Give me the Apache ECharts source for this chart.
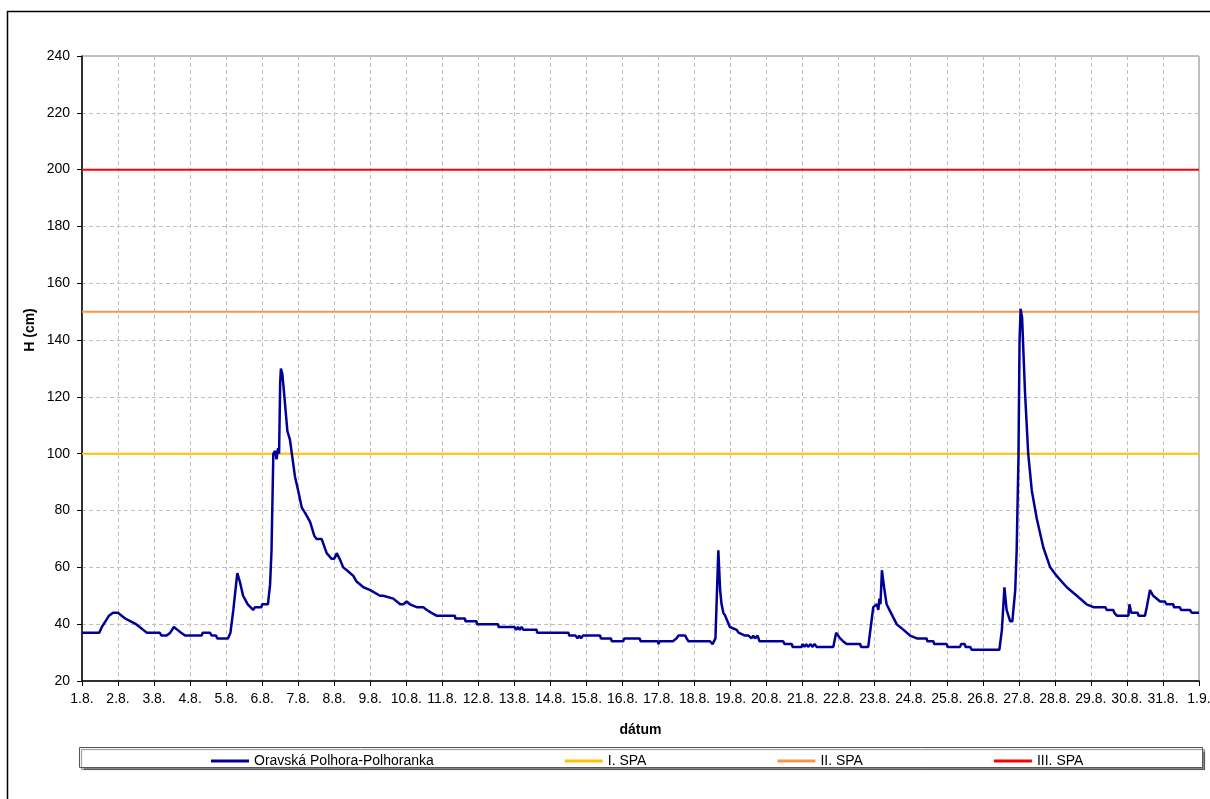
<!DOCTYPE html>
<html>
<head>
<meta charset="utf-8">
<script src="https://cdn.jsdelivr.net/npm/echarts@6/dist/echarts.min.js"></script>
<style>
html,body{margin:0;padding:0;background:#fff;overflow:hidden;}
#chart{width:1210px;height:799px;}
</style>
</head>
<body>
<div id="chart"></div>
<script>
// x tick labels (one per day, 1.8. .. 1.9.)
var dateLabels = ['1.8.','2.8.','3.8.','4.8.','5.8.','6.8.','7.8.','8.8.','9.8.','10.8.','11.8.','12.8.','13.8.','14.8.','15.8.','16.8.','17.8.','18.8.','19.8.','20.8.','21.8.','22.8.','23.8.','24.8.','25.8.','26.8.','27.8.','28.8.','29.8.','30.8.','31.8.','1.9.'];
var yTicks = [20,40,60,80,100,120,140,160,180,200,220,240];

var stationName = 'Oravská Polhora-Polhoranka';
// time in days since 1.8. 00:00
var tDays = [0,0.48,0.55,0.65,0.75,0.86,1.0,1.1,1.2,1.35,1.5,1.6,1.7,1.8,2.16,2.2,2.35,2.45,2.55,2.65,2.75,2.86,3.32,3.35,3.55,3.6,3.72,3.75,4.05,4.12,4.2,4.31,4.38,4.47,4.6,4.75,4.8,4.98,5.0,5.16,5.22,5.26,5.31,5.36,5.4,5.44,5.47,5.5,5.52,5.56,5.59,5.7,5.77,5.91,6.0,6.1,6.2,6.33,6.45,6.51,6.65,6.79,6.93,7.0,7.07,7.15,7.25,7.35,7.53,7.62,7.81,8.0,8.27,8.36,8.64,8.83,8.92,9.01,9.1,9.29,9.47,9.57,9.7,9.84,10.35,10.36,10.63,10.64,10.95,10.96,11.55,11.56,12.0,12.05,12.1,12.15,12.2,12.25,12.62,12.63,13.5,13.52,13.7,13.75,13.8,13.85,13.9,14.38,14.4,14.68,14.7,15.02,15.05,15.48,15.5,15.98,16.0,16.03,16.4,16.5,16.55,16.74,16.78,16.83,17.43,17.5,17.55,17.58,17.62,17.66,17.71,17.75,17.8,17.85,17.98,18.17,18.22,18.4,18.5,18.58,18.63,18.68,18.75,18.8,19.46,19.5,19.7,19.72,19.97,20.0,20.05,20.1,20.15,20.22,20.27,20.33,20.39,20.85,20.93,21.04,21.12,21.22,21.6,21.62,21.82,21.92,21.96,22.06,22.1,22.13,22.16,22.2,22.26,22.33,22.45,22.61,22.8,22.98,23.17,23.44,23.46,23.63,23.65,24.0,24.02,24.37,24.4,24.5,24.52,24.65,24.69,25.46,25.53,25.6,25.66,25.76,25.82,25.9,25.94,25.99,26.02,26.05,26.09,26.17,26.26,26.36,26.5,26.68,26.87,27.05,27.33,27.61,27.88,28.07,28.4,28.44,28.62,28.65,28.72,29.04,29.07,29.12,29.3,29.32,29.5,29.55,29.64,29.73,29.92,30.05,30.1,30.29,30.3,30.47,30.5,30.75,30.8,31];
// water level H (cm)
var hVals = [37,37,39,41,43,44,44,43,42,41,40,39,38,37,37,36,36,37,39,38,37,36,36,37,37,36,36,35,35,37,45,58,55,50,47,45,46,46,47,47,54,66,100,101,98,102,100,125,130,128,124,108,105,92,87,81,79,76,71,70,70,65,63,63,65,63,60,59,57,55,53,52,50,50,49,47,47,48,47,46,46,45,44,43,43,42,42,41,41,40,40,39,39,38,39,38,39,38,38,37,37,36,36,35,36,35,36,36,35,35,34,34,35,35,34,34,33,34,34,35,36,36,35,34,34,33,33,35,35,66,52,47,44,43,39,38,37,36,36,35,36,35,36,34,34,33,33,32,32,33,32,33,32,33,32,33,32,32,37,35,34,33,33,32,32,42,46,47,45,49,47,59,53,47,44,40,38,36,35,35,34,34,33,33,32,32,33,33,32,32,31,31,38,53,45,41,41,52,66,99,140,151,148,122,100,87,77,67,60,57,53,50,47,46,46,45,45,44,43,43,47,44,44,43,43,46,52,50,48,48,47,47,46,46,45,45,44,44];

var spaNames = ['I. SPA','II. SPA','III. SPA'];
var spaLevels = [100,150,200];
var spaColors = ['#FFC000','#F79646','#FF0000'];

var mainData = tDays.map(function(t,i){return [t,hVals[i]];});
var dayCount = dateLabels.length - 1;

var FONT = "'Liberation Sans', Arial, sans-serif";
var series = [{
  name: stationName, type: 'line', data: mainData, showSymbol: false, symbol: 'none',
  lineStyle: {color: '#000099', width: 2.5}, itemStyle: {color: '#000099'}, z: 5, animation: false
}];
spaNames.forEach(function(n,i){
  series.push({
    name: n, type: 'line', data: [[0,spaLevels[i]],[dayCount,spaLevels[i]]], symbol: 'none',
    lineStyle: {color: spaColors[i], width: 2}, itemStyle: {color: spaColors[i]}, z: 3, animation: false, silent: true
  });
});

var chart = echarts.init(document.getElementById('chart'), null, {renderer: 'canvas'});
chart.setOption({
  animation: false,
  backgroundColor: '#fff',
  textStyle: {fontFamily: FONT},
  grid: {left: 82, top: 56, right: 11, bottom: 118, outerBoundsMode: 'none', containLabel: false,
    show: true, borderColor: '#808080', borderWidth: 1, backgroundColor: 'transparent'},
  xAxis: {
    type: 'value', min: 0, max: dayCount, interval: 1,
    name: 'dátum', nameLocation: 'middle', nameGap: 42,
    nameTextStyle: {fontFamily: FONT, fontSize: 14, fontWeight: 'bold', color: '#000'},
    axisLine: {show: true, onZero: false, lineStyle: {color: '#000', width: 1.5}},
    axisTick: {show: true, length: 5, lineStyle: {color: '#000'}},
    axisLabel: {fontFamily: FONT, fontSize: 14, color: '#000', margin: 11, hideOverlap: false,
      formatter: function(v){ return dateLabels[Math.round(v)] || ''; }},
    splitLine: {show: true, lineStyle: {color: '#bfbfbf', type: [4,3], width: 1}}
  },
  yAxis: {
    type: 'value', min: yTicks[0], max: yTicks[yTicks.length-1], interval: yTicks[1]-yTicks[0],
    axisLine: {show: true, lineStyle: {color: '#000', width: 1.5}},
    axisTick: {show: true, length: 5, lineStyle: {color: '#000'}},
    axisLabel: {fontFamily: FONT, fontSize: 14, color: '#000', margin: 12},
    splitLine: {show: true, lineStyle: {color: '#bfbfbf', type: [4,3], width: 1}}
  },
  legend: {
    left: 206, top: 749, itemGap: 131, itemWidth: 38, itemHeight: 3, icon: 'rect',
    textStyle: {fontFamily: FONT, fontSize: 14, color: '#000'},
    data: [stationName].concat(spaNames), selectedMode: false
  },
  graphic: [
    {type: 'rect', shape: {x: 7.5, y: 11.5, width: 1230, height: 820}, style: {fill: 'none', stroke: '#000', lineWidth: 1.5}, z: -10},
    {type: 'rect', shape: {x: 79.5, y: 747.5, width: 1123, height: 20},
      style: {fill: '#fff', stroke: '#555', lineWidth: 1, shadowColor: 'rgba(0,0,0,0.45)', shadowOffsetX: 2, shadowOffsetY: 2, shadowBlur: 1}, z: -5},
    {type: 'text', x: 30, y: 330, rotation: Math.PI / 2,
      style: {text: 'H (cm)', fontFamily: FONT, fontSize: 14, fontWeight: 'bold', fill: '#000', align: 'center', verticalAlign: 'middle'}}
  ],
  series: series
});
</script>
</body>
</html>
